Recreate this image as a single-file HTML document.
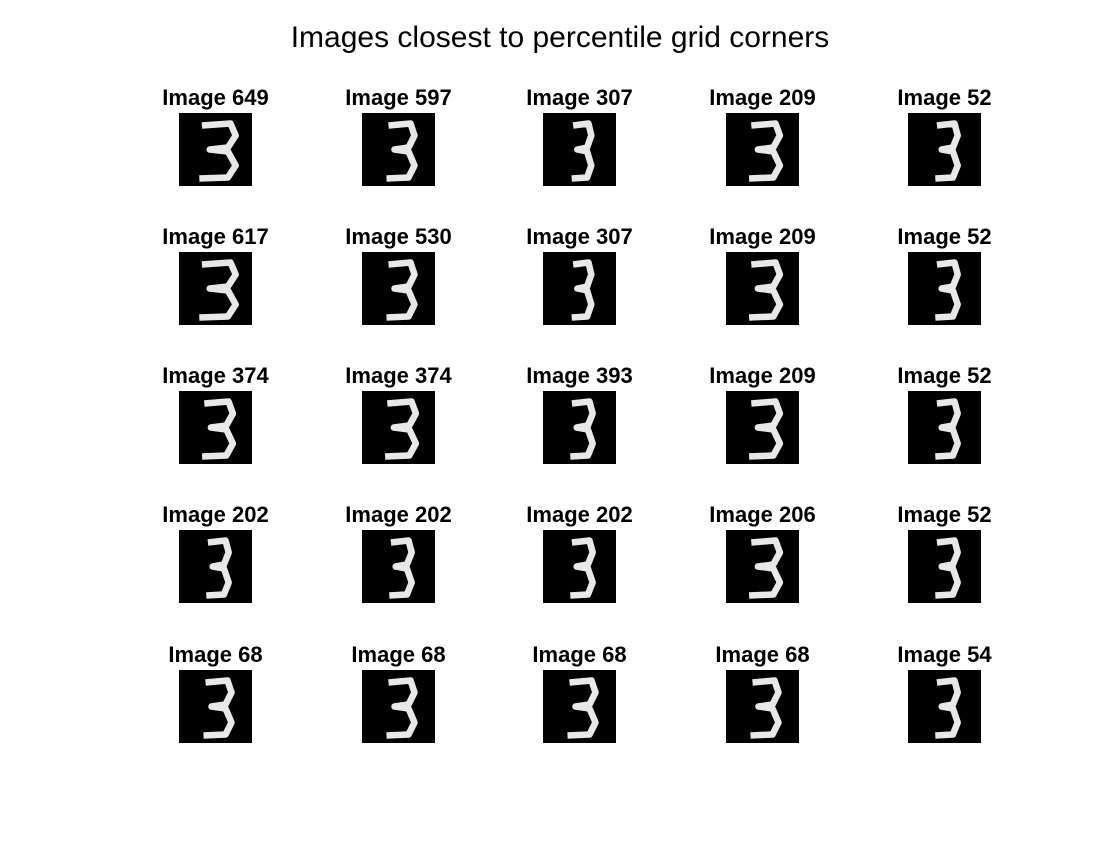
<!DOCTYPE html>
<html><head><meta charset="utf-8"><style>
body{margin:0;background:#fff;font-family:"Liberation Sans",sans-serif}
</style></head><body>
<svg width="1120" height="840" viewBox="0 0 1120 840" id="fig">
<rect width="1120" height="840" fill="#fff"/>
<text x="560" y="47" text-anchor="middle" font-size="30" font-family="Liberation Sans, sans-serif">Images closest to percentile grid corners</text>
</svg>
<script>
const imageIds=[[649,597,307,209,52],[617,530,307,209,52],[374,374,393,209,52],[202,202,202,206,52],[68,68,68,68,54]];
const widths=[[1.3,1,0.7,1.1,0.8],[1.3,1,0.7,1.1,0.8],[1.1,1.1,0.8,1.1,0.8],[0.8,0.8,0.8,1.1,0.8],[1,1,1,1,0.8]];
const colX=[179,362,543,726,908], rowY=[113,252,391,530,670], S=73;
const svg=document.getElementById('fig'), NS='http://www.w3.org/2000/svg';
const base=[[-12,-24],[10,-26],[14,-14],[8,-2],[-6,0],[8,2],[14,16],[8,28],[-14,29]];
imageIds.forEach((row,r)=>row.forEach((id,c)=>{
  const g=document.createElementNS(NS,'g');
  
  
  const rect=document.createElementNS(NS,'rect');
  rect.setAttribute('x',colX[c]);rect.setAttribute('y',rowY[r]);rect.setAttribute('width',S);rect.setAttribute('height',S);rect.setAttribute('fill','#000');
  g.appendChild(rect);
  const cx=colX[c]+S/2+2, cy=rowY[r]+S/2, w=widths[r][c];
  const p=document.createElementNS(NS,'polyline');
  p.setAttribute('points',base.map(([x,y])=>(cx+x*w)+','+(cy+y)).join(' '));
  p.setAttribute('fill','none');p.setAttribute('stroke','#e8e8e8');p.setAttribute('stroke-width','6.5');p.setAttribute('stroke-linejoin','round');
  g.appendChild(p);
  const t=document.createElementNS(NS,'text');
  t.setAttribute('x',colX[c]+S/2);t.setAttribute('y',rowY[r]-8);t.setAttribute('text-anchor','middle');
  t.setAttribute('font-size','22');t.setAttribute('font-weight','bold');t.setAttribute('font-family','Liberation Sans, sans-serif');
  
  
  t.textContent='Image '+id;
  g.appendChild(t);
  svg.appendChild(g);
}));
</script>
</body></html>
